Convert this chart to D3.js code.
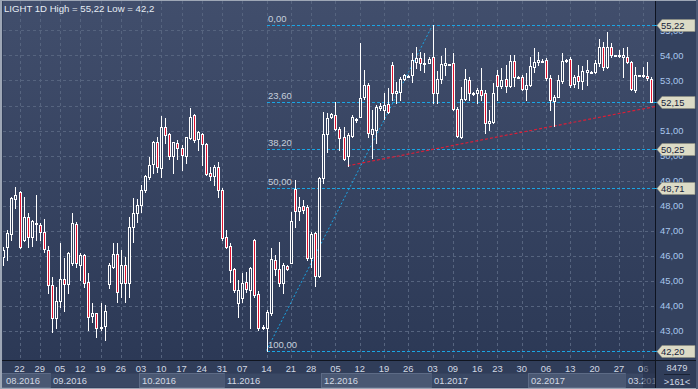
<!DOCTYPE html>
<html>
<head>
<meta charset="utf-8">
<script src="https://cdn.jsdelivr.net/npm/d3@7"></script>
<style>
  body { margin: 0; background: #2f3c58; }
  svg { display: block; font-family: "Liberation Sans", Arial, sans-serif; }
</style>
</head>
<body>
<script>
// daily candles, LIGHT 1D, 16.08.2016 - 07.03.2017 (161 bars)
const opens = [45.95,46.33,46.85,48.27,48.53,46.62,47.53,46.73,47.30,47.22,46.93,46.21,44.82,43.49,44.19,45.05,44.85,45.69,47.26,45.62,
  46.02,44.95,43.59,43.69,43.15,43.19,44.85,45.55,46.06,44.89,45.62,44.89,47.13,47.69,48.02,48.62,49.15,49.66,50.55,49.51,
  51.13,50.85,49.98,50.49,50.31,49.99,50.69,51.62,50.65,50.86,50.45,49.29,49.18,49.53,48.62,46.75,46.38,45.45,44.09,44.29,
  44.95,44.62,46.62,44.46,43.15,43.09,43.71,45.82,45.45,44.89,45.59,45.71,48.66,47.79,47.98,47.93,45.89,46.89,45.18,49.09,
  50.85,51.53,51.62,51.05,50.75,49.98,50.78,51.45,51.55,52.33,52.82,50.85,51.02,51.89,51.82,52.06,53.62,52.49,52.55,53.05,
  53.18,53.22,53.75,53.89,53.71,53.71,53.93,52.49,53.06,53.61,53.65,53.71,51.85,50.73,52.25,53.02,52.50,52.51,52.62,52.49,
  51.29,51.35,53.22,52.78,53.05,52.78,53.78,53.14,53.13,52.65,52.82,53.53,53.73,53.80,53.82,53.09,52.19,52.35,52.99,53.78,
  53.85,52.86,53.18,52.99,53.35,53.36,53.35,53.69,54.35,53.55,54.33,54.00,53.99,53.93,53.95,53.73,52.62,53.20,53.19,53.18,
  53.06];
const highs = [46.35,47.02,48.35,48.73,48.59,48.35,47.69,47.42,48.42,47.29,47.46,46.39,45.15,44.75,46.49,45.89,46.15,47.69,47.35,46.09,
  46.06,45.29,44.09,43.70,44.09,44.02,45.69,46.49,46.49,46.22,45.95,47.55,48.29,48.26,48.82,49.22,49.95,50.58,50.75,51.58,
  51.49,50.89,50.55,50.62,50.42,50.75,51.89,51.66,50.99,50.91,50.49,49.55,49.62,49.75,48.69,47.02,46.49,45.49,45.02,45.29,
  45.35,45.55,46.65,44.59,43.22,43.82,46.29,46.02,46.55,45.71,45.62,47.75,49.02,48.35,48.22,48.02,46.95,46.95,49.15,51.75,
  51.69,51.69,52.15,51.15,51.15,50.89,51.62,51.49,54.49,53.42,52.89,51.82,52.02,52.09,52.49,52.71,53.75,52.95,53.13,53.26,
  53.20,54.09,54.35,54.15,54.09,53.95,55.22,53.39,53.98,54.29,53.68,54.09,51.95,52.73,53.45,53.13,52.55,52.69,53.49,52.62,
  51.82,52.91,53.42,53.49,53.62,54.02,54.02,53.18,53.22,53.29,53.93,54.29,54.15,53.84,53.89,53.22,52.42,53.22,54.11,53.86,
  53.93,53.22,53.62,53.58,53.82,53.40,53.82,54.66,54.53,54.95,54.49,54.03,54.22,54.29,54.35,53.78,53.55,53.22,53.55,53.75,
  53.14];
const lows = [45.62,45.82,46.62,47.89,46.30,46.60,46.35,46.39,46.62,46.62,46.15,44.49,42.95,43.09,43.95,43.79,44.51,45.62,45.55,45.02,
  44.75,43.02,43.35,42.73,43.02,42.62,44.69,45.49,44.15,44.35,44.15,44.35,46.55,47.35,47.75,48.55,49.07,49.31,49.35,49.13,
  50.49,49.85,49.31,49.85,49.42,49.71,50.65,50.55,50.22,49.62,49.22,49.02,48.82,48.35,46.62,46.29,44.95,44.55,43.55,44.15,
  44.55,43.09,44.35,43.02,43.05,42.20,43.62,45.22,44.78,44.51,45.42,45.69,47.15,47.42,47.69,45.82,45.55,44.78,45.13,48.91,
  50.15,51.49,51.02,50.22,49.82,49.59,50.75,51.35,51.53,52.25,50.75,49.89,50.49,51.82,51.45,51.69,52.22,52.09,52.22,53.02,
  53.16,52.95,53.49,53.42,53.35,53.69,52.09,52.09,52.89,53.22,53.60,51.82,50.75,50.69,52.22,52.22,52.42,52.09,52.22,50.89,
  51.02,51.31,52.22,52.69,52.55,52.73,52.78,53.10,52.62,52.22,52.78,53.35,53.62,53.76,53.02,51.82,51.18,52.33,52.89,53.74,
  52.75,52.73,52.69,52.65,52.82,53.32,53.31,53.58,53.42,53.51,53.95,53.97,53.95,53.15,53.69,52.62,52.55,53.17,53.15,53.02,
  52.14];
const closes = [46.22,46.89,48.31,48.41,46.33,47.53,46.73,47.38,47.32,46.95,46.25,44.82,43.49,44.19,45.05,44.86,46.11,47.29,45.69,46.02,
  44.91,43.55,43.69,43.09,43.16,43.78,45.62,46.06,44.55,45.62,44.89,47.15,47.69,48.02,48.62,49.18,49.62,50.55,49.55,51.13,
  50.82,49.99,50.53,50.29,50.02,50.73,51.53,50.62,50.93,50.46,49.26,49.18,49.55,48.62,46.69,46.35,45.42,44.62,44.62,44.91,
  44.65,45.49,44.42,43.09,43.09,43.75,45.85,45.45,44.89,45.62,45.45,47.38,47.79,47.95,47.82,45.89,46.86,45.18,49.09,50.85,
  51.51,51.65,51.05,50.69,49.85,50.82,51.55,51.47,52.29,52.82,50.89,51.05,51.93,51.98,52.02,51.75,52.49,52.59,53.05,53.22,
  53.18,53.82,53.89,53.71,53.70,53.86,52.49,53.05,53.65,53.69,53.64,51.85,50.78,52.25,53.05,52.49,52.48,52.62,52.42,51.29,
  51.39,52.49,52.78,53.02,52.79,53.78,53.13,53.12,52.65,52.82,53.58,53.75,53.82,53.79,53.09,52.22,52.35,53.02,53.78,53.82,
  52.82,53.13,52.99,53.39,53.42,53.35,53.69,54.35,53.55,54.35,54.02,53.99,54.03,54.00,53.73,52.65,53.22,53.19,53.20,53.09,
  52.15];

// x axis: bar index of each weekly tick, and month blocks
const tickIdx = [4,9,14,19,24,29,34,39,44,49,54,59,65,71,76,82,88,94,100,106,111,117,122,128,134,140,146,152,158];
const tickLabels = ['22','29','05','12','19','26','03','10','17','24','31','07','14','21','28','05','12','19','26','03','09','16','23','30','06','13','20','27','06'];
const monthStart = [-0.5,11.5,33.5,54.5,78.5,105.5,129.5,153.5];
const monthLabels = ['08.2016','09.2016','10.2016','11.2016','12.2016','01.2017','02.2017','03.2017'];

// price axis (52,00 sits fully under the 52,15 tag, so it gets no label)
const priceTicks = [43,44,45,46,47,48,49,50,51,52,53,54,55];
const priceLabels = [43,44,45,46,47,48,49,50,51,53,54,55];

// fibonacci retracement between the low bar and the high bar
const fibLevels = [55.22,52.15,50.25,48.71,42.20];
const fibLabels = ['0,00','23,60','38,20','50,00','100,00'];
const fibLowIdx = 65, fibHighIdx = 106;

// red support line through two lows
const trendIdx = [85,136];
const trendVal = [49.59,51.18];

const W = 698, H = 389;
const plotL = 3, plotR = 655, plotT = 1, plotB = 360;

const x = d3.scaleLinear().domain([0, 160]).range([3.3, 651.3]);
const y = d3.scaleLinear().domain([42.2, 55.22]).range([350.5, 25]);
const fmt = v => v.toFixed(2).replace('.', ',');

const svg = d3.select('body').append('svg')
  .attr('width', W).attr('height', H);

const defs = svg.append('defs');
const grad = defs.append('linearGradient').attr('id', 'bg')
  .attr('x1', 0).attr('y1', 0).attr('x2', 0).attr('y2', 1);
grad.append('stop').attr('offset', 0).attr('stop-color', '#414e6c');
grad.append('stop').attr('offset', 1).attr('stop-color', '#2c3956');
defs.append('clipPath').attr('id', 'plotclip')
  .append('rect').attr('x', plotL).attr('y', plotT).attr('width', plotR - plotL).attr('height', plotB - plotT);
defs.append('clipPath').attr('id', 'axisclip')
  .append('rect').attr('x', 0).attr('y', plotB).attr('width', plotR).attr('height', H - plotB);

// backgrounds
svg.append('rect').attr('width', W).attr('height', H).attr('fill', '#303d59');
svg.append('rect').attr('x', plotL).attr('y', plotT).attr('width', plotR - plotL).attr('height', plotB - plotT)
  .attr('fill', 'url(#bg)');
svg.append('rect').attr('x', plotR).attr('y', 0).attr('width', W - plotR).attr('height', plotB)
  .attr('fill', '#34425f');

const plot = svg.append('g').attr('clip-path', 'url(#plotclip)');

// grid
plot.selectAll('.hgrid').data(priceTicks).enter().append('line')
  .attr('x1', plotL).attr('x2', plotR)
  .attr('y1', d => Math.round(y(d)) + 0.5).attr('y2', d => Math.round(y(d)) + 0.5)
  .attr('stroke', '#56647f').attr('stroke-dasharray', '3,3');
plot.selectAll('.vgrid').data(tickIdx).enter().append('line')
  .attr('x1', d => Math.round(x(d)) + 0.5).attr('x2', d => Math.round(x(d)) + 0.5)
  .attr('y1', plotT).attr('y2', plotB)
  .attr('stroke', '#56647f').attr('stroke-dasharray', '3,3');

// fibonacci
const fibX0 = Math.round(x(fibLowIdx));
plot.selectAll('.fib').data(fibLevels).enter().append('line')
  .attr('x1', fibX0).attr('x2', plotR)
  .attr('y1', d => Math.round(y(d)) + 0.5).attr('y2', d => Math.round(y(d)) + 0.5)
  .attr('stroke', '#1aa5e4').attr('stroke-dasharray', '3,2');
plot.append('line')
  .attr('x1', x(fibLowIdx)).attr('y1', y(lows[fibLowIdx]))
  .attr('x2', x(fibHighIdx)).attr('y2', y(highs[fibHighIdx]))
  .attr('stroke', '#1aa5e4').attr('stroke-dasharray', '2,2');
plot.selectAll('.fibtxt').data(fibLevels).enter().append('text')
  .attr('x', fibX0 + 1).attr('y', d => Math.round(y(d)) - 3)
  .attr('fill', '#c6cfdc').attr('font-size', 9.5)
  .text((d, i) => fibLabels[i]);

// red trend line, extended to the right edge
const slope = (trendVal[1] - trendVal[0]) / (trendIdx[1] - trendIdx[0]);
const endIdx = x.invert(plotR);
plot.append('line')
  .attr('x1', x(trendIdx[0])).attr('y1', y(trendVal[0]))
  .attr('x2', x(endIdx)).attr('y2', y(trendVal[0] + slope * (endIdx - trendIdx[0])))
  .attr('stroke', '#d81f38').attr('stroke-width', 1.2).attr('stroke-dasharray', '3,2');

// candles
const bars = d3.range(opens.length);
const cx = i => Math.round(x(i));
plot.selectAll('.wick').data(bars).enter().append('line')
  .attr('x1', i => cx(i) + 0.5).attr('x2', i => cx(i) + 0.5)
  .attr('y1', i => Math.round(y(highs[i]))).attr('y2', i => Math.round(y(lows[i])) + 1)
  .attr('stroke', '#ffffff');
plot.selectAll('.body').data(bars).enter().append('rect')
  .attr('x', i => cx(i) - 0.5)
  .attr('y', i => Math.round(y(Math.max(opens[i], closes[i]))) + 0.5)
  .attr('width', 2)
  .attr('height', i => Math.max(1, Math.round(y(Math.min(opens[i], closes[i]))) - Math.round(y(Math.max(opens[i], closes[i])))))
  .attr('fill', i => closes[i] < opens[i] ? '#e0122f' : '#34415e')
  .attr('stroke', '#ffffff');

// title
svg.append('text').attr('x', 4).attr('y', 12)
  .attr('fill', '#e6ecf4').attr('font-size', 9.6)
  .text('LIGHT 1D High = 55,22 Low = 42,2');

// right price axis
svg.append('line').attr('x1', plotR + 0.5).attr('x2', plotR + 0.5).attr('y1', 0).attr('y2', plotB)
  .attr('stroke', '#0e1320');
svg.selectAll('.ptick').data(priceLabels).enter().append('text')
  .attr('x', 660).attr('y', d => y(d) + 3.5)
  .attr('fill', '#a9c7ee').attr('font-size', 9.4)
  .text(fmt);
svg.selectAll('.fibext').data(fibLevels).enter().append('line')
  .attr('x1', plotR).attr('x2', 659)
  .attr('y1', d => Math.round(y(d)) + 0.5).attr('y2', d => Math.round(y(d)) + 0.5)
  .attr('stroke', '#1aa5e4').attr('stroke-dasharray', '3,2');
const tags = svg.selectAll('.tag').data(fibLevels).enter().append('g')
  .attr('transform', d => `translate(0,${Math.round(y(d)) + 0.5})`);
tags.append('path')
  .attr('d', 'M657,0 L662,-6 L695,-6 L695,6 L662,6 Z')
  .attr('fill', '#dcdbc6').attr('stroke', '#8f8f80').attr('stroke-width', 0.6);
tags.append('text').attr('x', 661).attr('y', 3.5)
  .attr('fill', '#17223a').attr('font-size', 9.4)
  .text(fmt);

// bottom time axis
svg.append('line').attr('x1', 0).attr('x2', W).attr('y1', plotB + 0.5).attr('y2', plotB + 0.5)
  .attr('stroke', '#10151f');
const axis = svg.append('g').attr('clip-path', 'url(#axisclip)');
axis.selectAll('.mbox').data(monthStart).enter().append('rect')
  .attr('x', d => Math.round(x(d)) + 0.5)
  .attr('y', 373.5)
  .attr('width', (d, i) => Math.round(i < monthStart.length - 1 ? x(monthStart[i + 1]) : plotR + 20) - Math.round(x(d)))
  .attr('height', 14)
  .attr('fill', (d, i) => i % 2 === 0 ? '#4a5873' : '#3a4864')
  .attr('stroke', (d, i) => i % 2 === 0 ? '#5d6b86' : 'none');
axis.selectAll('.mtxt').data(monthStart).enter().append('text')
  .attr('x', d => Math.max(6, Math.round(x(d)) + 3)).attr('y', 384)
  .attr('fill', '#d2d9e4').attr('font-size', 9.4)
  .text((d, i) => monthLabels[i]);
axis.selectAll('.wtxt').data(tickIdx).enter().append('text')
  .attr('x', d => x(d)).attr('y', 371.5)
  .attr('text-anchor', 'middle')
  .attr('fill', '#d2d9e4').attr('font-size', 9.4)
  .text((d, i) => tickLabels[i]);
axis.append('rect').attr('x', 643).attr('y', plotB + 1).attr('width', plotR - 643).attr('height', H - plotB - 2)
  .attr('fill', '#263149').attr('opacity', 0.6);

// bottom right corner
svg.append('line').attr('x1', plotR + 0.5).attr('x2', plotR + 0.5).attr('y1', plotB).attr('y2', H)
  .attr('stroke', '#10151f');
svg.append('text').attr('x', 677).attr('y', 371).attr('text-anchor', 'middle')
  .attr('fill', '#d2d9e4').attr('font-size', 9.4).text('8479');
svg.append('line').attr('x1', 664).attr('x2', 690).attr('y1', 374.5).attr('y2', 374.5)
  .attr('stroke', '#1a2234');
svg.append('text').attr('x', 677).attr('y', 385).attr('text-anchor', 'middle')
  .attr('fill', '#d2d9e4').attr('font-size', 9.4).text('>161<');

// outer frame
svg.append('rect').attr('x', 0).attr('y', 0).attr('width', 2).attr('height', H).attr('fill', '#9ea7b6');
svg.append('rect').attr('x', 0).attr('y', 0).attr('width', W).attr('height', 1).attr('fill', '#9ea7b6');
svg.append('rect').attr('x', 0).attr('y', H - 1).attr('width', W).attr('height', 1).attr('fill', '#9ea7b6');
svg.append('rect').attr('x', W - 2).attr('y', 0).attr('width', 2).attr('height', H).attr('fill', '#4b5875');
</script>
</body>
</html>
